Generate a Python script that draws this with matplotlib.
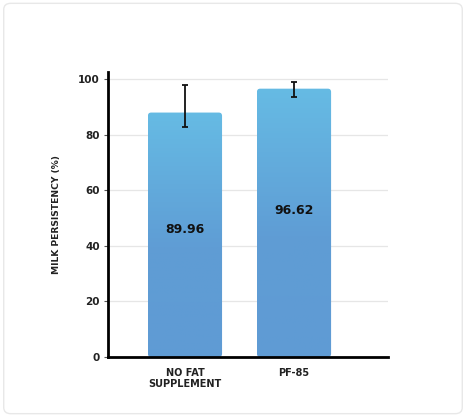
import matplotlib.pyplot as plt
import numpy as np
from matplotlib.colors import LinearSegmentedColormap
from matplotlib.patches import FancyBboxPatch

categories = ['NO FAT\nSUPPLEMENT', 'PF-85']
bar_heights = [88.0, 96.6]
value_labels = ['89.96', '96.62']
err_low = [82.7, 93.6]
err_high = [98.1, 98.9]
yticks = [0, 20, 40, 60, 80, 100]

plt.rcParams['font.family'] = ['DejaVu Sans']

fig = plt.figure(figsize=(4.66, 4.17), dpi=100)
fig.patch.set_facecolor('white')

# card border
card = FancyBboxPatch((0.008, 0.008), 0.984, 0.984, boxstyle='round,pad=0,rounding_size=0.015',
                      transform=fig.transFigure, facecolor='white', edgecolor='#e8e8e8', lw=1.0, zorder=-5)
fig.patches.append(card)

ax = fig.add_axes([108 / 466, 1 - 357 / 417, 280 / 466, 285 / 417])
ax.set_zorder(2)
ax.set_facecolor('none')

x = np.arange(len(categories))
width = 0.68
ax.set_xlim(-0.706, 1.862)
ax.set_ylim(0, 102.6)

cmap = LinearSegmentedColormap.from_list('bar', [(0, '#5f9bd4'), (0.45, '#5f9dd5'), (1, '#66bbe4')])
grad = np.linspace(0, 1, 256).reshape(-1, 1)

for xi, h in zip(x, bar_heights):
    bar = FancyBboxPatch((xi - width / 2, 0), width, h, boxstyle='round,pad=0,rounding_size=0.03',
                         mutation_aspect=40, facecolor='none', edgecolor='none', zorder=2)
    ax.add_patch(bar)
    im = ax.imshow(grad, cmap=cmap, origin='lower', aspect='auto',
                   extent=[xi - width / 2, xi + width / 2, 0, h], zorder=2)
    im.set_clip_path(bar)

mid = [(lo + hi) / 2 for lo, hi in zip(err_low, err_high)]
yerr = [[m - lo for m, lo in zip(mid, err_low)], [hi - m for m, hi in zip(mid, err_high)]]
ax.errorbar(x, mid, yerr=yerr, fmt='none', ecolor='#111111', elinewidth=1.3, capsize=2, capthick=1.3, zorder=4)

# value labels, roughly mid-bar (second one sits a little higher)
label_frac = [0.52, 0.545]
for xi, h, lab, f in zip(x, bar_heights, value_labels, label_frac):
    ax.text(xi, h * f, lab, ha='center', va='center', fontsize=9, fontweight='bold', color='#111111', zorder=5)

ax.set_xticks(x)
ax.set_xticklabels(categories, fontsize=7, fontweight='bold', color='#222222', linespacing=1.15)
ax.set_yticks(yticks)
ax.set_yticklabels([str(t) for t in yticks], fontsize=7.5, fontweight='bold', color='#222222')
ax.tick_params(axis='x', length=0, pad=8)
ax.tick_params(axis='y', length=3, width=0.8, color='#555555', pad=3)
ax.yaxis.grid(True, color='#e6e6e6', lw=0.9)
ax.set_axisbelow(True)

for s in ['top', 'right']:
    ax.spines[s].set_visible(False)
ax.spines['left'].set_linewidth(2)
ax.spines['bottom'].set_linewidth(2)

ax.set_ylabel('MILK PERSISTENCY (%)', fontsize=6.6, fontweight='bold', color='#222222', labelpad=12)

fig.savefig('out.png', dpi=100)
